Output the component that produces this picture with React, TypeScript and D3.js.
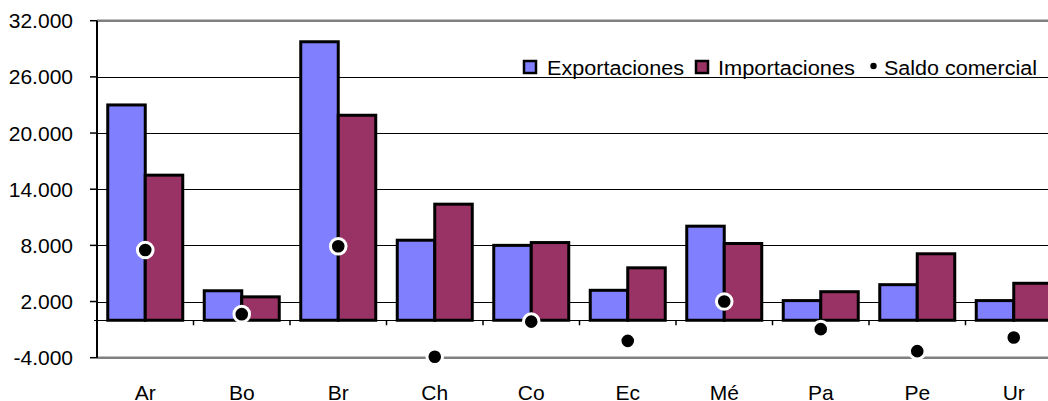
import React from 'react';
import * as d3 from 'd3';

const categories = ['Ar', 'Bo', 'Br', 'Ch', 'Co', 'Ec', 'Mé', 'Pa', 'Pe', 'Ur'];
const exportaciones = [23000, 3150, 29750, 8550, 8000, 3200, 10050, 2100, 3800, 2100];
const importaciones = [15500, 2500, 21900, 12400, 8300, 5600, 8200, 3050, 7100, 3950];
const saldo = [7500, 650, 7900, -3900, -150, -2200, 2000, -950, -3300, -1850];
const yTicks = [-4000, 2000, 8000, 14000, 20000, 26000, 32000];

const W = 1048;
const H = 401;
const FONT = 'Arial, "Liberation Sans", sans-serif';

const fmt = (v: number) => {
  const s = Math.abs(v).toString().replace(/\B(?=(\d{3})+(?!\d))/g, '.');
  return (v < 0 ? '-' : '') + s;
};

export default function App() {
  const left = 97;
  const right = 97 + 96.5 * categories.length;
  const x = d3.scaleBand<string>().domain(categories).range([left, right]).paddingInner(0).paddingOuter(0);
  const y = d3.scaleLinear().domain([-4000, 32000]).range([357.7, 20.7]);
  const groupW = 75;
  const inner = d3.scaleBand<string>().domain(['exp', 'imp']).range([0, groupW]);
  const off = (x.bandwidth() - groupW) / 2;
  const y0 = y(0);

  return (
    <svg width={W} height={H} style={{ position: 'absolute', left: 0, top: 0, background: '#fff' }} fontFamily={FONT}>
      {/* grid */}
      {yTicks.filter((t) => t !== -4000 && t !== 32000).map((t) => (
        <line key={t} x1={left} x2={W} y1={Math.round(y(t)) + 0.5} y2={Math.round(y(t)) + 0.5} stroke="#000" strokeWidth={1} />
      ))}
      {/* plot border top/bottom */}
      <line x1={left} x2={W} y1={y(32000)} y2={y(32000)} stroke="#808080" strokeWidth={2.5} />
      <line x1={left} x2={W} y1={y(-4000)} y2={y(-4000)} stroke="#808080" strokeWidth={2.5} />
      {/* zero line */}
      <line x1={left - 3} x2={W} y1={Math.round(y0) + 0.5} y2={Math.round(y0) + 0.5} stroke="#000" strokeWidth={1} />
      {categories.slice(1).map((c) => (
        <line key={c} x1={x(c)!} x2={x(c)!} y1={y0} y2={y0 + 5} stroke="#000" strokeWidth={1.5} />
      ))}
      {/* y axis */}
      <line x1={left} x2={left} y1={y(32000)} y2={y(-4000)} stroke="#000" strokeWidth={2} />
      {yTicks.map((t) => (
        <g key={t}>
          <line x1={left - 7} x2={left} y1={y(t)} y2={y(t)} stroke="#000" strokeWidth={1.5} />
          <text x={73} y={y(t) + 7.5} textAnchor="end" fontSize={21} fill="#000">{fmt(t)}</text>
        </g>
      ))}
      {/* bars */}
      {categories.map((c, i) => (
        <g key={c}>
          <rect x={x(c)! + off + inner('exp')!} y={y(exportaciones[i])} width={inner.bandwidth()} height={y0 - y(exportaciones[i])} fill="#8080FF" stroke="#000" strokeWidth={3} />
          <rect x={x(c)! + off + inner('imp')!} y={y(importaciones[i])} width={inner.bandwidth()} height={y0 - y(importaciones[i])} fill="#993366" stroke="#000" strokeWidth={3} />
        </g>
      ))}
      {/* saldo markers */}
      {categories.map((c, i) => (
        <circle key={c} cx={x(c)! + x.bandwidth() / 2} cy={y(saldo[i])} r={7.8} fill="#000" stroke="#fff" strokeWidth={3} />
      ))}
      {/* x labels */}
      {categories.map((c) => (
        <text key={c} x={x(c)! + x.bandwidth() / 2} y={400} textAnchor="middle" fontSize={21} fill="#000">{c}</text>
      ))}
      {/* legend */}
      <g fontSize={20} fill="#000">
        <rect x={524} y={61} width={12} height={12} fill="#8080FF" stroke="#000" strokeWidth={2.5} />
        <text x={547} y={74.5} textLength={137} lengthAdjust="spacingAndGlyphs">Exportaciones</text>
        <rect x={696} y={61} width={12} height={12} fill="#993366" stroke="#000" strokeWidth={2.5} />
        <text x={718} y={74.5} textLength={137} lengthAdjust="spacingAndGlyphs">Importaciones</text>
        <circle cx={873.5} cy={66} r={3.2} fill="#000" />
        <text x={884} y={74.5} textLength={153} lengthAdjust="spacingAndGlyphs">Saldo comercial</text>
      </g>
    </svg>
  );
}
